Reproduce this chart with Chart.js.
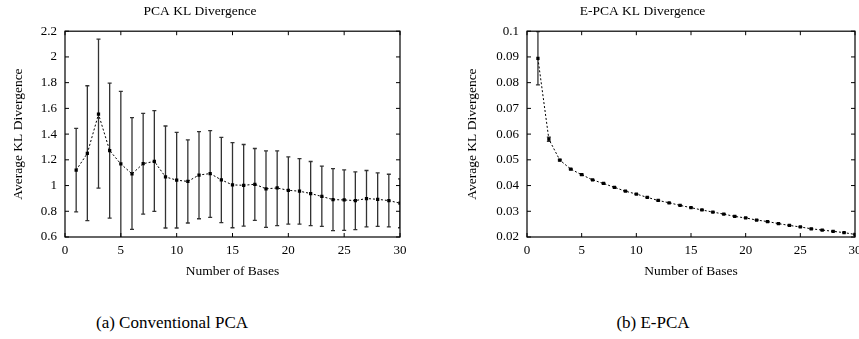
<!DOCTYPE html>
<html>
<head>
<meta charset="utf-8">
<script src="https://cdn.jsdelivr.net/npm/chart.js@4.4.1/dist/chart.umd.min.js"></script>
<style>
  body { margin: 0; width: 859px; height: 339px; overflow: hidden; background: #fff; position: relative; font-family: "Liberation Serif", serif; }
  canvas { position: absolute; top: 0; }
  #pcaChart { left: 0; }
  #epcaChart { left: 430px; }
  .cap { position: absolute; top: 313px; font-size: 17px; color: #000; white-space: nowrap; transform: translateX(-50%); }
</style>
</head>
<body>
<canvas id="pcaChart" width="430" height="290"></canvas>
<canvas id="epcaChart" width="445" height="290"></canvas>
<div class="cap" style="left:172px">(a) Conventional PCA</div>
<div class="cap" style="left:653px">(b) E-PCA</div>
<script>
// number of bases (x values)
const bases = [1, 2, 3, 4, 5, 6, 7, 8, 9, 10, 11, 12, 13, 14, 15, 16, 17, 18, 19, 20, 21, 22, 23, 24, 25, 26, 27, 28, 29, 30];

// conventional PCA: mean and error bar ends
const pcaMean = [1.12, 1.25, 1.555, 1.272, 1.168, 1.091, 1.17, 1.188, 1.067, 1.042, 1.032, 1.082, 1.093, 1.044, 1.005, 1.002, 1.01, 0.975, 0.981, 0.963, 0.956, 0.938, 0.915, 0.891, 0.888, 0.883, 0.899, 0.893, 0.883, 0.863];
const pcaLow = [0.796, 0.728, 0.98, 0.747, 0.55, 0.659, 0.778, 0.8, 0.67, 0.67, 0.709, 0.742, 0.752, 0.711, 0.672, 0.685, 0.729, 0.675, 0.688, 0.7, 0.7, 0.688, 0.683, 0.649, 0.652, 0.657, 0.678, 0.683, 0.678, 0.672];
const pcaHigh = [1.445, 1.776, 2.138, 1.797, 1.732, 1.528, 1.561, 1.582, 1.463, 1.414, 1.355, 1.419, 1.427, 1.375, 1.334, 1.319, 1.288, 1.269, 1.269, 1.223, 1.21, 1.187, 1.151, 1.132, 1.122, 1.107, 1.117, 1.099, 1.088, 1.052];

// E-PCA: mean and error bar ends
const epcaMean = [0.0894, 0.058, 0.0499, 0.0464, 0.0442, 0.0422, 0.0408, 0.0393, 0.0378, 0.0367, 0.0354, 0.0342, 0.0333, 0.0323, 0.0314, 0.0305, 0.0297, 0.0289, 0.028, 0.0274, 0.0266, 0.026, 0.0252, 0.0245, 0.0239, 0.0232, 0.0227, 0.0222, 0.0217, 0.021];
const epcaLow = [0.0791, 0.0572, 0.0496, 0.0462, 0.044, 0.0421, 0.0407, 0.0392, 0.0377, 0.0366, 0.0353, 0.0341, 0.0332, 0.0322, 0.0313, 0.0304, 0.0296, 0.0288, 0.0279, 0.0273, 0.0265, 0.0259, 0.0251, 0.0244, 0.0238, 0.0231, 0.0226, 0.0221, 0.0216, 0.0209];
const epcaHigh = [0.0998, 0.0588, 0.0502, 0.0466, 0.0444, 0.0423, 0.0409, 0.0394, 0.0379, 0.0368, 0.0355, 0.0343, 0.0334, 0.0324, 0.0315, 0.0306, 0.0298, 0.029, 0.0281, 0.0275, 0.0267, 0.0261, 0.0253, 0.0246, 0.024, 0.0233, 0.0228, 0.0223, 0.0218, 0.0211];

const xTicks = { min: 0, max: 30, step: 5 };
const pcaTicks = { min: 0.6, max: 2.2, step: 0.2 };
const epcaTicks = { min: 0.02, max: 0.1, step: 0.01 };

const serif = "'Liberation Serif', 'Times New Roman', serif";
Chart.defaults.font.family = serif;
Chart.defaults.color = "#000";

// gnuplot-ish frame, inward ticks and error bars
const framePlugin = {
  id: "frame",
  beforeDatasetsDraw(chart, args, opts) {
    const { ctx, chartArea: a, scales } = chart;
    const xs = scales.x, ys = scales.y;
    ctx.save();
    ctx.beginPath();
    ctx.rect(a.left, a.top, a.right - a.left, a.bottom - a.top);
    ctx.clip();
    ctx.strokeStyle = "#333";
    ctx.lineWidth = 1.3;
    const low = opts.low, high = opts.high;
    bases.forEach((b, i) => {
      const px = xs.getPixelForValue(b);
      const y1 = ys.getPixelForValue(low[i]);
      const y2 = ys.getPixelForValue(high[i]);
      ctx.beginPath();
      ctx.moveTo(px, y1);
      ctx.lineTo(px, y2);
      ctx.moveTo(px - 2, y1);
      ctx.lineTo(px + 2, y1);
      ctx.moveTo(px - 2, y2);
      ctx.lineTo(px + 2, y2);
      ctx.stroke();
    });
    ctx.restore();
  },
  afterDraw(chart) {
    const { ctx, chartArea: a, scales } = chart;
    ctx.save();
    ctx.strokeStyle = "#000";
    ctx.lineWidth = 1.2;
    ctx.strokeRect(a.left, a.top, a.right - a.left, a.bottom - a.top);
    ctx.lineWidth = 1;
    ctx.beginPath();
    scales.x.ticks.forEach(t => {
      const px = scales.x.getPixelForValue(t.value);
      ctx.moveTo(px, a.bottom);
      ctx.lineTo(px, a.bottom - 4);
      ctx.moveTo(px, a.top);
      ctx.lineTo(px, a.top + 4);
    });
    scales.y.ticks.forEach(t => {
      const py = scales.y.getPixelForValue(t.value);
      ctx.moveTo(a.left, py);
      ctx.lineTo(a.left + 4, py);
      ctx.moveTo(a.right, py);
      ctx.lineTo(a.right - 4, py);
    });
    ctx.stroke();
    ctx.restore();
  }
};

function makeChart(id, title, mean, low, high, yt, yWidth, yTitlePad, rightPad) {
  const canvas = document.getElementById(id);
  return new Chart(canvas, {
    type: "line",
    data: {
      labels: bases,
      datasets: [{
        data: bases.map((b, i) => ({ x: b, y: mean[i] })),
        borderColor: "#000",
        borderWidth: 1,
        borderDash: [2, 2],
        pointStyle: "rect",
        pointRadius: 2.3,
        pointBackgroundColor: "#000",
        pointBorderColor: "#000",
        pointBorderWidth: 0,
        tension: 0
      }]
    },
    options: {
      responsive: false,
      animation: false,
      events: [],
      layout: { padding: { left: 0, right: rightPad, top: 0, bottom: 0 } },
      plugins: {
        legend: { display: false },
        tooltip: { enabled: false },
        title: {
          display: true,
          text: title,
          font: { size: 13.5, weight: "normal" },
          padding: { top: 3, bottom: 12 }
        },
        frame: { low: low, high: high }
      },
      scales: {
        x: {
          type: "linear",
          min: xTicks.min,
          max: xTicks.max,
          border: { display: false },
          grid: { display: false, drawTicks: false },
          ticks: { stepSize: xTicks.step, padding: 6, font: { size: 13 }, maxRotation: 0 },
          title: { display: true, text: "Number of Bases", font: { size: 13.5 }, padding: { top: 0, bottom: 10 } },
          afterFit(s) { s.height = 53; }
        },
        y: {
          type: "linear",
          min: yt.min,
          max: yt.max,
          border: { display: false },
          grid: { display: false, drawTicks: false },
          ticks: {
            stepSize: yt.step,
            padding: 8,
            font: { size: 13 },
            callback: v => String(+v.toFixed(3))
          },
          title: { display: true, text: "Average KL Divergence", font: { size: 13.5 }, padding: { top: yTitlePad, bottom: 0 } },
          afterFit(s) { s.width = yWidth; }
        }
      }
    },
    plugins: [framePlugin]
  });
}

makeChart("pcaChart", "PCA KL Divergence", pcaMean, pcaLow, pcaHigh, pcaTicks, 65, 10, 30);
makeChart("epcaChart", "E-PCA KL Divergence", epcaMean, epcaLow, epcaHigh, epcaTicks, 97, 34, 20);
</script>
</body>
</html>
